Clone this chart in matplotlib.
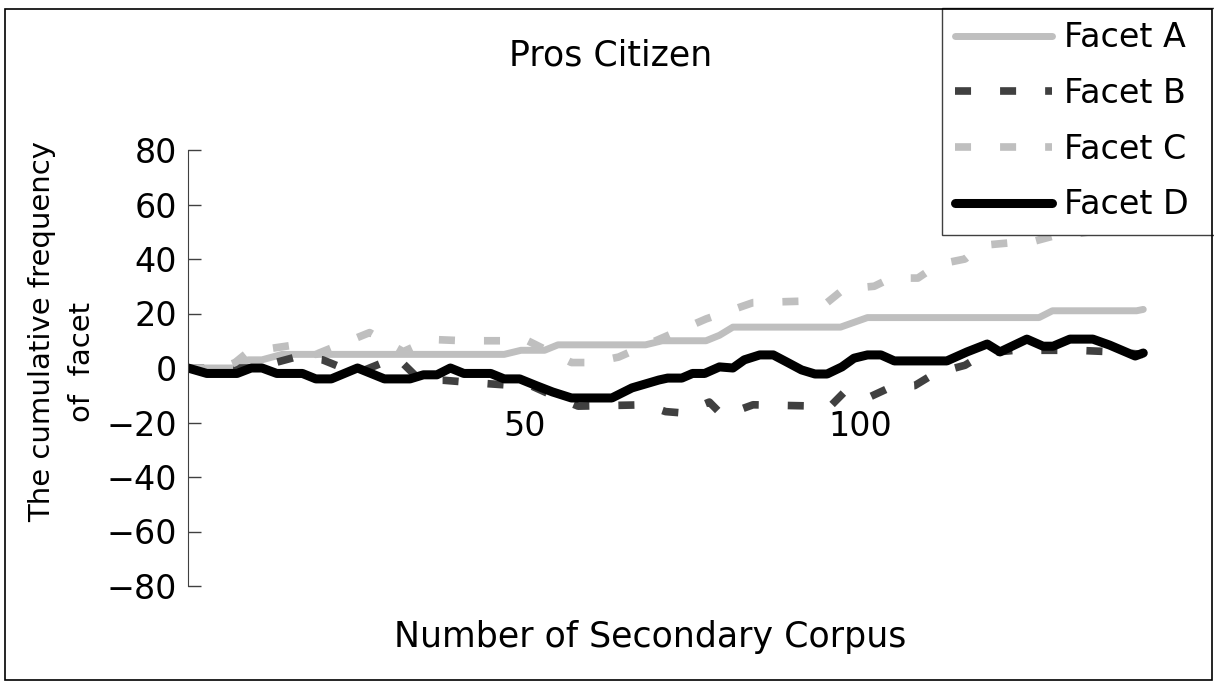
import numpy as np
import matplotlib
matplotlib.use("Agg")
import matplotlib.pyplot as plt
from matplotlib.patches import Rectangle

# Datos (vértices de cada serie)
x_a = [0, 7, 9, 11, 14, 47, 49.5, 53, 55, 68, 70.5, 77, 79, 81, 97, 101, 126.5, 128.5, 141, 142]
y_a = [0, 0, 3, 3, 5, 5, 6.5, 6.5, 8.5, 8.5, 10, 10, 12, 15, 15, 18.5, 18.5, 21, 21, 21.5]

x_b = [0, 10, 16, 20, 24, 26, 31, 34.5, 38, 43, 49, 51, 55, 58, 68, 71, 73.5, 77.5, 79.5, 84,
       94, 95.5, 97.5, 101, 104.5, 108, 111, 115.5, 118.5, 123, 132, 137, 142]
y_b = [0, 0, 4, 3, -1, -1, 4, -4.5, -4.5, -5.5, -6.5, -6.5, -11, -14, -13.5, -16, -16.5, -12.5, -17.5, -13.5,
       -14, -14, -9, -11, -7, -6.5, -2, 1, 5.5, 6.5, 6.5, 6, 5]

x_c = [0, 5, 7, 9, 16, 19, 24, 27, 32, 36, 41, 47, 49, 50.5, 57, 60, 64, 70, 77, 84, 91,
       95, 97.5, 102, 104.5, 108.5, 111.5, 115.5, 118, 122.5, 125, 129.5, 131.5, 142]
y_c = [0, 0, 2, 6, 8.5, 5, 10, 13, 6, 10.5, 10, 10, 11, 10, 2, 2, 4, 10.5, 18, 24, 24.5,
       24, 29, 30, 33, 33, 38, 40, 45, 46, 46, 49, 49, 53]

x_d = [0, 2.8, 7.3, 9.4, 11, 13.2, 17, 19, 21.3, 25.2, 29.2, 33, 35, 37, 39, 41, 45, 47, 49.3,
       51.8, 54.2, 57, 63, 66, 70, 71.3, 73.4, 75, 76.8, 79, 81, 82.7, 85, 87, 89, 91.2, 93.2,
       95, 97.2, 99, 101, 103, 105, 112.8, 115.8, 118.8, 120.7, 124.7, 127.1, 128.6, 131.1,
       134.5, 137, 140.8, 142]
y_d = [0, -2, -2, 0, 0, -2, -2, -4, -4, 0, -4, -4, -2.5, -2.5, 0, -2, -2, -4, -4,
       -6.5, -8.8, -11, -11, -7.3, -4.4, -3.7, -3.7, -2, -2, 0.4, 0, 3, 4.8, 4.8, 2.2, -0.7, -2.2,
       -2.2, 0.4, 3.6, 4.8, 4.8, 2.6, 2.6, 5.9, 8.8, 5.9, 10.6, 8, 8, 10.6,
       10.6, 8.4, 4.4, 5.5]

etiquetas = ["Facet A", "Facet B", "Facet C", "Facet D"]
y_ticks = [-80, -60, -40, -20, 0, 20, 40, 60, 80]
x_ticks = [50, 100]

plt.rcParams["font.family"] = ["DejaVu Sans"]
W, H = 1214, 689
fig = plt.figure(figsize=(W / 100, H / 100), dpi=100)
ax = fig.add_axes([188 / W, 1 - 586 / H, (1150 - 188) / W, (586 - 150) / H])

ax.plot(x_a, y_a, color="#BFBFBF", lw=5, solid_capstyle="round", label=etiquetas[0])
ax.plot(x_b, y_b, color="#404040", lw=5.5, dashes=(2.1, 3.8), dash_capstyle="butt", label=etiquetas[1])
ax.plot(x_c, y_c, color="#BFBFBF", lw=5.5, dashes=(2.1, 3.8), dash_capstyle="butt", label=etiquetas[2])
ax.plot(x_d, y_d, color="black", lw=6.5, solid_capstyle="round", label=etiquetas[3])

ax.set_xlim(0, 143)
ax.set_ylim(-80, 80)
ax.set_yticks(y_ticks)
ax.set_yticklabels([str(v).replace("-", "\u2212") for v in y_ticks])
ax.set_xticks(x_ticks)

for s in ["top", "right"]:
    ax.spines[s].set_visible(False)
ax.spines["left"].set_color("#404040")
ax.spines["bottom"].set_position(("data", 0))
ax.spines["bottom"].set_color("none")
ax.tick_params(axis="y", direction="in", length=9, width=1, color="#404040", labelsize=24, pad=8)
ax.tick_params(axis="x", length=0, labelsize=24, pad=30)

fig.text(611 / W, 1 - 55 / H, "Pros Citizen", ha="center", va="center", fontsize=25)
fig.text(650 / W, 1 - 637 / H, "Number of Secondary Corpus", ha="center", va="center", fontsize=25)
fig.text(42 / W, 1 - 332 / H, "The cumulative frequency", ha="center", va="center", rotation=90, fontsize=21)
fig.text(82 / W, 1 - 362 / H, "of  facet", ha="center", va="center", rotation=90, fontsize=21)

# leyenda: el marco sale por la derecha como en el original
leg = ax.legend(loc="upper left", bbox_to_anchor=(942 / W, 1 - 229 / H, 300 / W, 221 / H),
                bbox_transform=fig.transFigure, mode="expand",
                borderaxespad=0, fontsize=24, fancybox=False, framealpha=1, edgecolor="#404040",
                handlelength=2.9, handletextpad=0.35, labelspacing=0.68, borderpad=0.4)
leg.get_frame().set_linewidth(1)

# marco exterior del gráfico
fig.patches.append(Rectangle((5 / W, 1 - 680 / H), 1207 / W, 671 / H, transform=fig.transFigure,
                             fill=False, ec="black", lw=1.2, zorder=0))

fig.savefig("out.png", dpi=100)
